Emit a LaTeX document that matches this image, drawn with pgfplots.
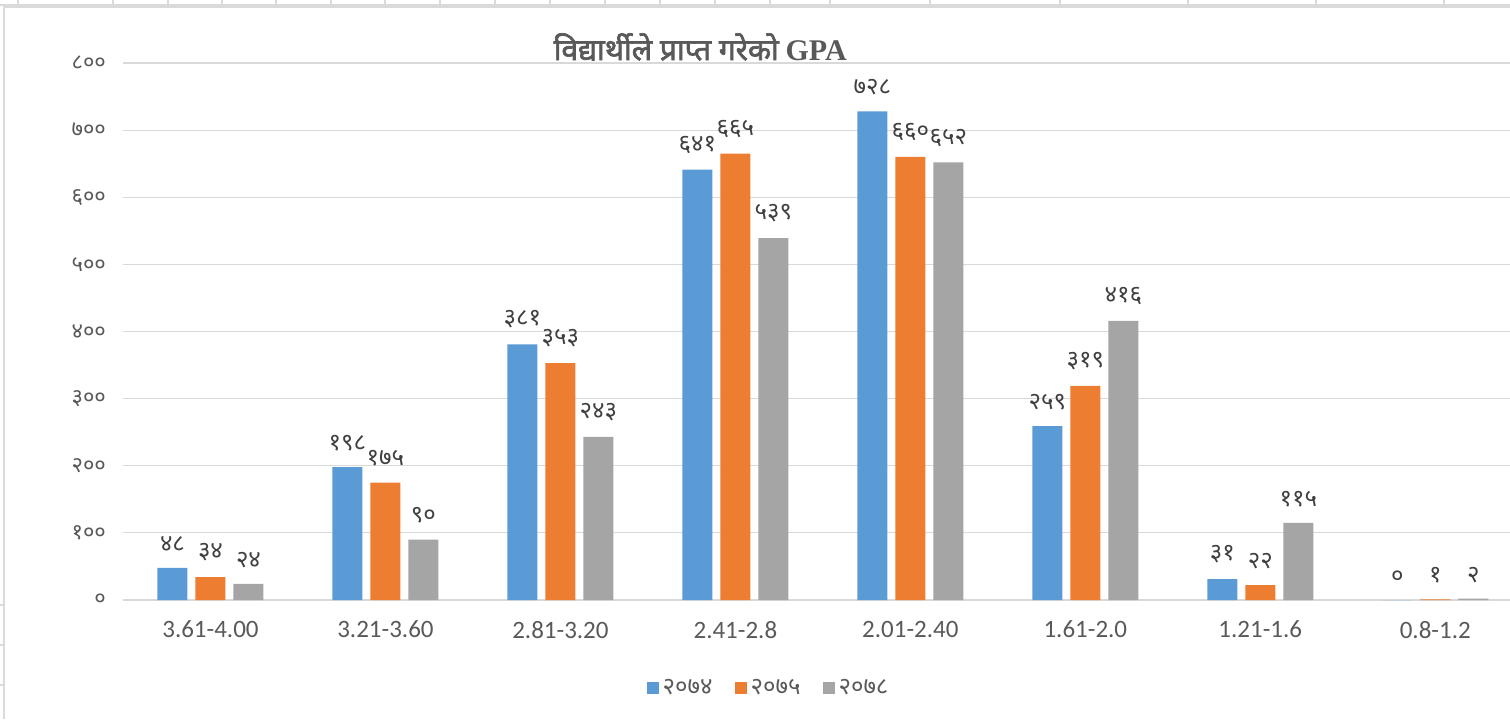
\documentclass[border=0pt]{standalone}
\usepackage{fontspec}
\usepackage{pgfplots}
\pgfplotsset{compat=1.18}
\setmainfont{Carlito}
\newfontfamily\devfont[Script=Devanagari]{Noto Sans}
\newfontfamily\devfontb[Script=Devanagari, FakeBold=2.2]{Noto Sans}
\newfontfamily\serifb{Liberation Serif}
\definecolor{cblue}{HTML}{5B9BD5}
\definecolor{corange}{HTML}{ED7D31}
\definecolor{cgray}{HTML}{A5A5A5}
\definecolor{gridgray}{HTML}{D9D9D9}
\definecolor{txtgray}{HTML}{595959}
\definecolor{lblgray}{HTML}{404040}
\definecolor{cellgray}{HTML}{DADADA}
\begin{document}
\begin{tikzpicture}
\path[use as bounding box] (-61.5pt,-59.5pt) rectangle (693.5pt,300pt);
% spreadsheet surroundings
\draw[cellgray, line width=0.8pt] (-61.5pt,297.5pt) -- (693.5pt,297.5pt);
\draw[cellgray, line width=0.8pt] (-59.5pt,-59.5pt) -- (-59.5pt,296.5pt) -- (693.5pt,296.5pt);
\foreach \X in {18,113,168,222,276,331,385,440,495,550,605,660,715,770,830,930,1060,1188,1316,1444}{
  \draw[cellgray, line width=0.6pt] ({(\X-123)*0.5pt},296.5pt) -- ({(\X-123)*0.5pt},300pt);
}
\foreach \Y in {605,645,685}{
  \draw[cellgray, line width=0.6pt] (-61.5pt,{(600-\Y)*0.5pt}) -- (-59.5pt,{(600-\Y)*0.5pt});
}
\begin{axis}[
  at={(0pt,0pt)}, anchor=south west, scale only axis,
  width=693.75pt, height=268.5pt,
  xmin=-0.5, xmax=7.43, ymin=0, ymax=800,
  ybar=4pt, bar width=15pt,
  xtick={0,...,7},
  xticklabels={3.61-4.00,3.21-3.60,2.81-3.20,2.41-2.8,2.01-2.40,1.61-2.0,1.21-1.6,0.8-1.2},
  ytick={0,100,...,800},
  yticklabels={०,१००,२००,३००,४००,५००,६००,७००,८००},
  ymajorgrids, grid style={draw=gridgray, line width=0.6pt},
  axis x line*=bottom, axis y line*=left,
  x axis line style={draw=gridgray, line width=0.6pt, -},
  y axis line style={draw=none},
  major tick length=0pt, tick style={draw=none},
  xticklabel style={font=\fontsize{12.5}{14}\selectfont, text=txtgray, yshift=-7pt},
  yticklabel style={font=\devfont\fontsize{11}{12}\selectfont, text=txtgray, xshift=-5pt},
  point meta=explicit symbolic,
  nodes near coords={\pgfplotspointmeta},
  every node near coord/.append style={font=\devfont\fontsize{12}{13}\selectfont, text=lblgray, yshift=4.5pt},
  legend style={at={(0.466,-0.164)}, anchor=center, draw=none, fill=none,
    legend columns=3, font=\devfont\fontsize{12}{13}\selectfont, text=txtgray,
    /tikz/every even column/.append style={column sep=9pt}},
  legend image code/.code={\fill[#1] (0pt,-3pt) rectangle (6pt,3pt);},
  clip=false,
]
\addplot[fill=cblue, draw=none] coordinates {(0,48)[४८] (1,198)[१९८] (2,381)[३८१] (3,641)[६४१] (4,728)[७२८] (5,259)[२५९] (6,31)[३१] (7,0)[०]};
\addplot[fill=corange, draw=none] coordinates {(0,34)[३४] (1,175)[१७५] (2,353)[३५३] (3,665)[६६५] (4,660)[६६०] (5,319)[३१९] (6,22)[२२] (7,1)[१]};
\addplot[fill=cgray, draw=none] coordinates {(0,24)[२४] (1,90)[९०] (2,243)[२४३] (3,539)[५३९] (4,652)[६५२] (5,416)[४१६] (6,115)[११५] (7,2)[२]};
\legend{२०७४,२०७५,२०७८}
\node[text=txtgray, font=\fontsize{15}{17}\selectfont] at (rel axis cs:0.416,1.03) {{\devfontb विद्यार्थीले प्राप्त गरेको} {\serifb\bfseries GPA}};
\end{axis}
\end{tikzpicture}
\end{document}
